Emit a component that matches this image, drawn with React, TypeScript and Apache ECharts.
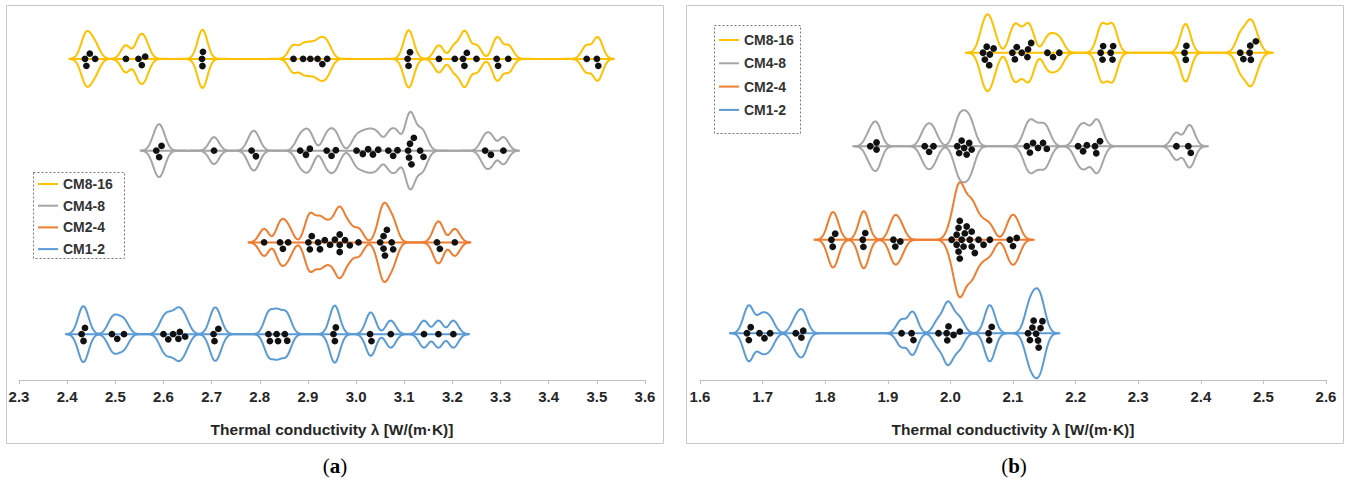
import React, { useEffect, useRef } from 'react';
import * as echarts from 'echarts';

// ---------- data ----------
const groups = ['CM1-2', 'CM2-4', 'CM4-8', 'CM8-16'];
const groupColors = ['#5B9BD5', '#ED7D31', '#A5A5A5', '#FFC000'];

// x-axis tick labels
const ticksA = ['2.3', '2.4', '2.5', '2.6', '2.7', '2.8', '2.9', '3.0', '3.1', '3.2', '3.3', '3.4', '3.5', '3.6'];
const ticksB = ['1.6', '1.7', '1.8', '1.9', '2.0', '2.1', '2.2', '2.3', '2.4', '2.5', '2.6'];
const axisTitle = 'Thermal conductivity λ [W/(m·K)]';

// panel (a)
const aCM1_2 = [2.430, 2.434, 2.437, 2.493, 2.504, 2.518, 2.600, 2.610, 2.620, 2.631, 2.634, 2.645, 2.704, 2.706, 2.714, 2.818, 2.821, 2.835, 2.838, 2.852, 2.857, 2.953, 2.956, 2.958, 3.029, 3.032, 3.072, 3.141, 3.171, 3.202];
const aCM2_4 = [2.809, 2.842, 2.848, 2.859, 2.901, 2.904, 2.908, 2.921, 2.925, 2.935, 2.946, 2.956, 2.966, 2.966, 2.966, 2.977, 2.987, 3.005, 3.050, 3.057, 3.057, 3.060, 3.064, 3.074, 3.077, 3.168, 3.174, 3.205];
const aCM4_8 = [2.585, 2.591, 2.596, 2.705, 2.783, 2.792, 2.884, 2.896, 2.904, 2.939, 2.949, 2.958, 3.001, 3.014, 3.025, 3.035, 3.046, 3.067, 3.077, 3.086, 3.108, 3.110, 3.112, 3.115, 3.120, 3.133, 3.140, 3.268, 3.280, 3.306];
const aCM8_16 = [2.437, 2.440, 2.447, 2.458, 2.522, 2.548, 2.555, 2.562, 2.680, 2.681, 2.682, 2.870, 2.890, 2.905, 2.920, 2.930, 2.940, 3.107, 3.109, 3.112, 3.172, 3.205, 3.222, 3.225, 3.230, 3.250, 3.292, 3.295, 3.316, 3.479, 3.500, 3.503];

// panel (b)
const bCM1_2 = [1.675, 1.678, 1.681, 1.695, 1.703, 1.712, 1.753, 1.762, 1.765, 1.922, 1.938, 1.941, 1.981, 1.994, 1.995, 1.997, 2.005, 2.015, 2.061, 2.062, 2.066, 2.124, 2.127, 2.131, 2.133, 2.137, 2.140, 2.141, 2.144, 2.147];
const bCM2_4 = [1.810, 1.812, 1.816, 1.860, 1.861, 1.864, 1.909, 1.912, 1.920, 2.002, 2.010, 2.010, 2.013, 2.013, 2.015, 2.015, 2.018, 2.021, 2.023, 2.026, 2.031, 2.034, 2.034, 2.039, 2.045, 2.053, 2.063, 2.095, 2.100, 2.106];
const bCM4_8 = [1.872, 1.882, 1.882, 1.959, 1.966, 1.973, 2.011, 2.014, 2.018, 2.022, 2.026, 2.030, 2.034, 2.122, 2.127, 2.132, 2.140, 2.148, 2.154, 2.204, 2.212, 2.218, 2.231, 2.233, 2.239, 2.361, 2.380, 2.384];
const bCM8_16 = [2.052, 2.055, 2.058, 2.062, 2.063, 2.069, 2.099, 2.103, 2.106, 2.114, 2.123, 2.124, 2.129, 2.155, 2.164, 2.174, 2.240, 2.243, 2.244, 2.256, 2.259, 2.260, 2.374, 2.376, 2.377, 2.463, 2.468, 2.478, 2.479, 2.480, 2.488];

const panelA = [aCM1_2, aCM2_4, aCM4_8, aCM8_16];
const panelB = [bCM1_2, bCM2_4, bCM4_8, bCM8_16];

// ---------- drawing helpers ----------
const FONT = '"Liberation Sans", Arial, sans-serif';
const DOT_R = 3.4;
const SCALE_PX = 13.5;
const POW = 0.7;

function violinSeries(panel: number, gi: number, values: number[], bw: number, pad: number) {
  const color = groupColors[gi];
  const row = gi + 0.5;
  return {
    type: 'custom',
    name: groups[gi],
    xAxisIndex: panel,
    yAxisIndex: panel,
    itemStyle: { color },
    data: [[values[0], row]],
    renderItem: (_params: any, api: any) => {
      const lo = Math.min(...values) - pad;
      const hi = Math.max(...values) + pad;
      const p0 = api.coord([lo, row]);
      const p1 = api.coord([hi, row]);
      const steps = Math.ceil((p1[0] - p0[0]) * 2);
      const upper: number[][] = [];
      const lower: number[][] = [];
      for (let i = 0; i <= steps; i++) {
        const v = lo + ((hi - lo) * i) / steps;
        let dens = 0;
        for (const x of values) {
          const z = (v - x) / bw;
          dens += Math.exp(-0.5 * z * z);
        }
        const w = SCALE_PX * Math.pow(dens, POW);
        const p = api.coord([v, row]);
        upper.push([p[0], p[1] - w]);
        lower.push([p[0], p[1] + w]);
      }
      const poly = upper.concat(lower.reverse());
      // beeswarm
      const d = DOT_R * 2 + 0.3;
      const xs = values.map((v) => api.coord([v, row])[0]).sort((a, b) => a - b);
      const placed: { x: number; y: number }[] = [];
      for (const x of xs) {
        const cands = [0];
        for (const p of placed) {
          const dx = x - p.x;
          if (Math.abs(dx) < d) {
            const dy = Math.sqrt(d * d - dx * dx);
            cands.push(p.y + dy, p.y - dy);
          }
        }
        cands.sort((a, b) => Math.abs(a) - Math.abs(b));
        for (const c of cands) {
          if (placed.every((p) => (p.x - x) ** 2 + (p.y - c) ** 2 >= d * d - 0.01)) {
            placed.push({ x, y: c });
            break;
          }
        }
      }
      const cy = p0[1];
      const children: any[] = [
        {
          type: 'polyline',
          shape: { points: [p0, p1] },
          style: { stroke: color, lineWidth: 2, fill: 'none' },
        },
        {
          type: 'polygon',
          shape: { points: poly },
          style: { stroke: color, lineWidth: 2, fill: 'none' },
        },
      ];
      for (const p of placed) {
        children.push({
          type: 'circle',
          shape: { cx: p.x, cy: cy + p.y, r: DOT_R },
          style: { fill: '#111' },
        });
      }
      return { type: 'group', children };
    },
  };
}

function xAxisFor(gridIndex: number, ticks: string[]) {
  return {
    gridIndex,
    type: 'value',
    min: parseFloat(ticks[0]),
    max: parseFloat(ticks[ticks.length - 1]),
    interval: 0.1,
    axisLine: { show: true, onZero: false, lineStyle: { color: '#BFBFBF', width: 1 } },
    axisTick: { show: true, length: 4, lineStyle: { color: '#BFBFBF' } },
    splitLine: { show: false },
    axisLabel: {
      showMinLabel: true,
      showMaxLabel: true,
      formatter: (v: number) => v.toFixed(1),
      fontWeight: 'bold',
      fontSize: 15,
      color: '#262626',
      fontFamily: FONT,
      margin: 9,
    },
    name: axisTitle,
    nameLocation: 'middle',
    nameGap: 41,
    nameTextStyle: { fontWeight: 'bold', fontSize: 15.5, color: '#262626', fontFamily: FONT },
  };
}

function legendFor(left: number, top: number, gap: number) {
  return {
    orient: 'vertical',
    left,
    top,
    padding: 0,
    itemGap: gap,
    itemWidth: 20,
    itemHeight: 2,
    icon: 'rect',
    data: groups.slice().reverse(),
    textStyle: { fontWeight: 'bold', fontSize: 14, color: '#333', fontFamily: FONT, lineHeight: 14 },
    selectedMode: false,
  };
}

export default function App() {
  const ref = useRef<HTMLDivElement>(null);
  useEffect(() => {
    if (!ref.current) return;
    const chart = echarts.init(ref.current, undefined, { renderer: 'svg' });
    const series: any[] = [];
    panelA.forEach((vals, gi) => series.push(violinSeries(0, gi, vals, 0.0085, 0.032)));
    panelB.forEach((vals, gi) => series.push(violinSeries(1, gi, vals, 0.0066, 0.027)));
    chart.setOption({
      animation: false,
      grid: [
        { left: 19, width: 626, top: 13, height: 367 },
        { left: 700, width: 626, top: 6, height: 374 },
      ],
      xAxis: [xAxisFor(0, ticksA), xAxisFor(1, ticksB)],
      yAxis: [
        { gridIndex: 0, type: 'value', min: 0, max: 4, show: false },
        { gridIndex: 1, type: 'value', min: 0, max: 4, show: false },
      ],
      legend: [legendFor(38, 177, 7.7), legendFor(719, 33, 9.3)],
      graphic: [
        { type: 'rect', shape: { x: 6.5, y: 5.5, width: 657, height: 438 }, style: { fill: 'none', stroke: '#C8C8C8', lineWidth: 1 }, z: -1 },
        { type: 'rect', shape: { x: 686.5, y: 5.5, width: 657, height: 438 }, style: { fill: 'none', stroke: '#C8C8C8', lineWidth: 1 }, z: -1 },
        { type: 'rect', shape: { x: 33.5, y: 172.5, width: 91, height: 86 }, style: { fill: 'none', stroke: '#777', lineWidth: 1, lineDash: [2, 2] } },
        { type: 'rect', shape: { x: 714.5, y: 25.5, width: 86, height: 108 }, style: { fill: 'none', stroke: '#777', lineWidth: 1, lineDash: [2, 2] } },
        {
          type: 'text',
          x: 335,
          y: 466,
          style: {
            text: '({b|a})',
            align: 'center',
            verticalAlign: 'middle',
            fontSize: 21,
            fontFamily: '"Liberation Serif", serif',
            fill: '#000',
            rich: { b: { fontWeight: 'bold', fontSize: 21, fontFamily: '"Liberation Serif", serif' } },
          },
        },
        {
          type: 'text',
          x: 1014,
          y: 466,
          style: {
            text: '({b|b})',
            align: 'center',
            verticalAlign: 'middle',
            fontSize: 21,
            fontFamily: '"Liberation Serif", serif',
            fill: '#000',
            rich: { b: { fontWeight: 'bold', fontSize: 21, fontFamily: '"Liberation Serif", serif' } },
          },
        },
      ],
      series,
    });
    return () => chart.dispose();
  }, []);
  return <div ref={ref} style={{ position: 'absolute', left: 0, top: 0, width: 1349, height: 479 }} />;
}
